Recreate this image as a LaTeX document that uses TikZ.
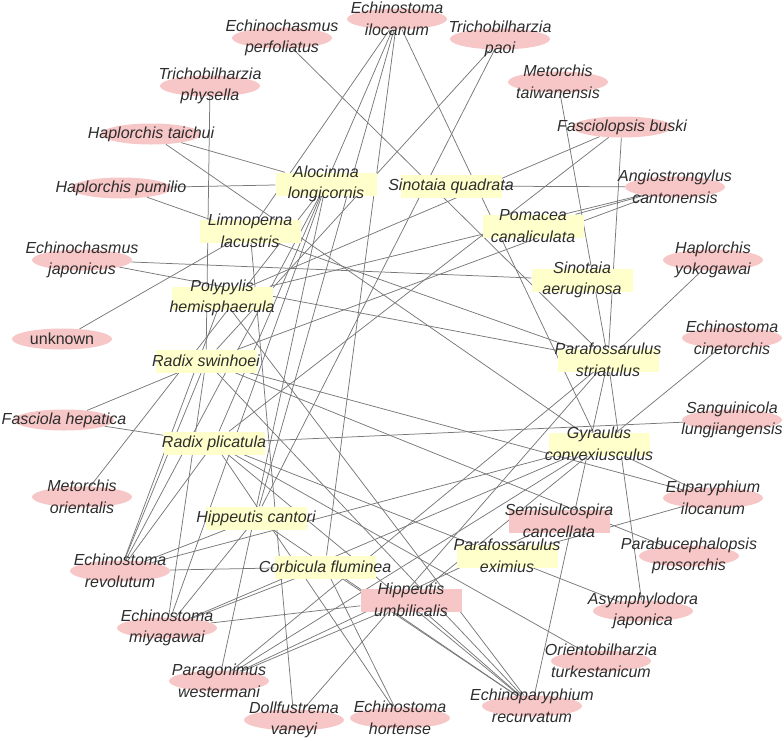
\documentclass[tikz,border=0pt]{standalone}
\usepackage{fontspec}
\setmainfont{Liberation Sans}
\usetikzlibrary{shapes.geometric}
\definecolor{pinkfill}{RGB}{247,198,198}
\definecolor{yellowfill}{RGB}{255,255,204}
\definecolor{edgegray}{RGB}{120,120,120}
\definecolor{labeltext}{RGB}{45,45,45}
\pgfdeclarelayer{bg}
\pgfsetlayers{bg,main}
\begin{document}
\begin{tikzpicture}[x=1pt,y=-1pt,
 para/.style={ellipse,fill=pinkfill,minimum width=100pt,minimum height=21pt,inner sep=0pt},
 host/.style={rectangle,fill=yellowfill,minimum width=101pt,minimum height=23pt,inner sep=0pt},
 hostp/.style={host,fill=pinkfill},
 lbl/.style={font=\fontsize{16}{21.5}\selectfont\itshape,text=labeltext,align=center,inner sep=0pt},
 lblup/.style={lbl,font=\fontsize{16}{21.5}\selectfont\upshape},
 link/.style={draw=edgegray,line width=0.75pt}]
\useasboundingbox (0,0) rectangle (784,740);
% parasites
\node[para] (eil) at (397,19) {};
\node[para] (epe) at (282,38) {};
\node[para] (tpa) at (500,39) {};
\node[para] (tph) at (210,86) {};
\node[para] (mta) at (558,82) {};
\node[para] (hta) at (151,134) {};
\node[para] (fbu) at (622,127) {};
\node[para] (hpu) at (121,188) {};
\node[para] (acan) at (675,187) {};
\node[para] (eja) at (82,260) {};
\node[para] (hyo) at (713,260) {};
\node[para] (unk) at (62,339) {};
\node[para] (eci) at (732,338) {};
\node[para] (fhe) at (64,420) {};
\node[para] (slu) at (732,420) {};
\node[para] (mor) at (82,497) {};
\node[para] (eup) at (713,498) {};
\node[para] (ppr) at (689,556) {};
\node[para] (ere) at (120,571) {};
\node[para] (aja) at (643,611) {};
\node[para] (emi) at (167,628) {};
\node[para] (otu) at (601,661) {};
\node[para] (pwe) at (219,681) {};
\node[para] (dva) at (294,720) {};
\node[para] (eho) at (400,718) {};
\node[para] (erc) at (532,706) {};
% hosts
\node[host] (alo) at (326,184) {};
\node[host] (sqd) at (451,186) {};
\node[host] (lim) at (250,231) {};
\node[host] (pom) at (533,226) {};
\node[host] (sae) at (582,280) {};
\node[host] (pol) at (222,298) {};
\node[host] (rsw) at (206,361) {};
\node[host] (pfs) at (608,360) {};
\node[host] (rpl) at (214,443) {};
\node[host] (gyr) at (599,444) {};
\node[host] (hca) at (256,518) {};
\node[hostp] (sem) at (559,521) {};
\node[host] (pfe) at (507,556) {};
\node[host] (cor) at (325,567) {};
\node[hostp] (hum) at (411,600) {};
% edges
\begin{pgfonlayer}{bg}
\draw[link] (eil) -- (lim);
\draw[link] (eil) -- (rpl);
\draw[link] (eil) -- (hca);
\draw[link] (eil) -- (cor);
\draw[link] (eil) -- (gyr);
\draw[link] (epe) -- (pfs);
\draw[link] (tpa) -- (rsw);
\draw[link] (tpa) -- (hca);
\draw[link] (tph) -- (rsw);
\draw[link] (mta) -- (pfs);
\draw[link] (hta) -- (alo);
\draw[link] (hta) -- (gyr);
\draw[link] (fbu) -- (pol);
\draw[link] (fbu) -- (rpl);
\draw[link] (fbu) -- (pfs);
\draw[link] (hpu) -- (alo);
\draw[link] (hpu) -- (pfs);
\draw[link] (acan) -- (sqd);
\draw[link] (acan) -- (pom);
\draw[link] (acan) -- (pol);
\draw[link] (acan) -- (rsw);
\draw[link] (hyo) -- (pfs);
\draw[link] (eci) -- (hum);
\draw[link] (slu) -- (rpl);
\draw[link] (eup) -- (rsw);
\draw[link] (eup) -- (pfe);
\draw[link] (eup) -- (gyr);
\draw[link] (ppr) -- (rsw);
\draw[link] (aja) -- (pfs);
\draw[link] (aja) -- (rpl);
\draw[link] (otu) -- (rpl);
\draw[link] (erc) -- (hum);
\draw[link] (erc) -- (rsw);
\draw[link] (erc) -- (pol);
\draw[link] (erc) -- (cor);
\draw[link] (erc) -- (rpl);
\draw[link] (erc) -- (pfs);
\draw[link] (erc) -- (hca);
\draw[link] (eho) -- (cor);
\draw[link] (eho) -- (rpl);
\draw[link] (dva) -- (lim);
\draw[link] (dva) -- (pfs);
\draw[link] (pwe) -- (alo);
\draw[link] (pwe) -- (pfs);
\draw[link] (pwe) -- (hum);
\draw[link] (pwe) -- (sem);
\draw[link] (pwe) -- (gyr);
\draw[link] (emi) -- (rsw);
\draw[link] (emi) -- (hca);
\draw[link] (emi) -- (cor);
\draw[link] (emi) -- (hum);
\draw[link] (emi) -- (alo);
\draw[link] (emi) -- (gyr);
\draw[link] (ere) -- (rsw);
\draw[link] (ere) -- (pol);
\draw[link] (ere) -- (rpl);
\draw[link] (ere) -- (hca);
\draw[link] (ere) -- (gyr);
\draw[link] (ere) -- (cor);
\draw[link] (ere) -- (alo);
\draw[link] (mor) -- (alo);
\draw[link] (fhe) -- (rsw);
\draw[link] (fhe) -- (rpl);
\draw[link] (unk) -- (lim);
\draw[link] (eja) -- (sae);
\draw[link] (eja) -- (pfs);
\end{pgfonlayer}
% labels
\node[lbl] (eil-t) at (eil) {Echinostoma\\ilocanum};
\node[lbl] (epe-t) at (epe) {Echinochasmus\\perfoliatus};
\node[lbl] (tpa-t) at (tpa) {Trichobilharzia\\paoi};
\node[lbl] (tph-t) at (tph) {Trichobilharzia\\physella};
\node[lbl] (mta-t) at (mta) {Metorchis\\taiwanensis};
\node[lbl] (hta-t) at (hta) {Haplorchis taichui};
\node[lbl] (fbu-t) at (fbu) {Fasciolopsis buski};
\node[lbl] (hpu-t) at (hpu) {Haplorchis pumilio};
\node[lbl] (acan-t) at (acan) {Angiostrongylus\\cantonensis};
\node[lbl] (eja-t) at (eja) {Echinochasmus\\japonicus};
\node[lbl] (hyo-t) at (hyo) {Haplorchis\\yokogawai};
\node[lblup] (unk-t) at (unk) {unknown};
\node[lbl] (eci-t) at (eci) {Echinostoma\\cinetorchis};
\node[lbl] (fhe-t) at (fhe) {Fasciola hepatica};
\node[lbl] (slu-t) at (slu) {Sanguinicola\\lungjiangensis};
\node[lbl] (mor-t) at (mor) {Metorchis\\orientalis};
\node[lbl] (eup-t) at (eup) {Euparyphium\\ilocanum};
\node[lbl] (ppr-t) at (ppr) {Parabucephalopsis\\prosorchis};
\node[lbl] (ere-t) at (ere) {Echinostoma\\revolutum};
\node[lbl] (aja-t) at (aja) {Asymphylodora\\japonica};
\node[lbl] (emi-t) at (emi) {Echinostoma\\miyagawai};
\node[lbl] (otu-t) at (otu) {Orientobilharzia\\turkestanicum};
\node[lbl] (pwe-t) at (pwe) {Paragonimus\\westermani};
\node[lbl] (dva-t) at (dva) {Dollfustrema\\vaneyi};
\node[lbl] (eho-t) at (eho) {Echinostoma\\hortense};
\node[lbl] (erc-t) at (erc) {Echinoparyphium\\recurvatum};
\node[lbl] (alo-t) at (alo) {Alocinma\\longicornis};
\node[lbl] (sqd-t) at (sqd) {Sinotaia quadrata};
\node[lbl] (lim-t) at (lim) {Limnoperna\\lacustris};
\node[lbl] (pom-t) at (pom) {Pomacea\\canaliculata};
\node[lbl] (sae-t) at (sae) {Sinotaia\\aeruginosa};
\node[lbl] (pol-t) at (pol) {Polypylis\\hemisphaerula};
\node[lbl] (rsw-t) at (rsw) {Radix swinhoei};
\node[lbl] (pfs-t) at (pfs) {Parafossarulus\\striatulus};
\node[lbl] (rpl-t) at (rpl) {Radix plicatula};
\node[lbl] (gyr-t) at (gyr) {Gyraulus\\convexiusculus};
\node[lbl] (hca-t) at (hca) {Hippeutis cantori};
\node[lbl] (sem-t) at (sem) {Semisulcospira\\cancellata};
\node[lbl] (pfe-t) at (pfe) {Parafossarulus\\eximius};
\node[lbl] (cor-t) at (cor) {Corbicula fluminea};
\node[lbl] (hum-t) at (hum) {Hippeutis\\umbilicalis};
\end{tikzpicture}
\end{document}
